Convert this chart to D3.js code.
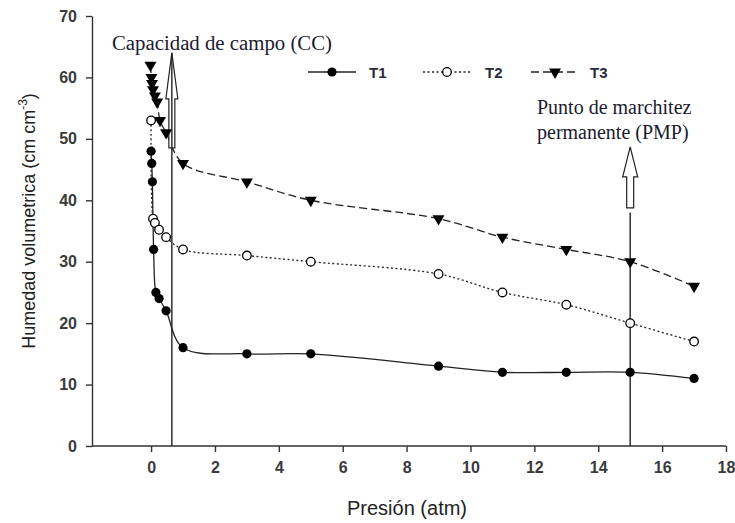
<!DOCTYPE html>
<html lang="es">

<head>
    <meta charset="UTF-8">
    <title>Humedad volumetrica</title>
    <script src="https://d3js.org/d3.v7.min.js"></script>
    <style>
        body { margin: 0; background: #fff; }
    </style>
</head>

<body>
    <svg id="chart"></svg>

    <script>
        // data
        var presT1 = [0, 0.02, 0.04, 0.08, 0.15, 0.25, 0.47, 1, 3, 5, 9, 11, 13, 15, 17];
        var humT1 = [48, 46, 43, 32, 25, 24, 22, 16, 15, 15, 13, 12, 12, 12, 11];

        var presT2 = [0, 0.06, 0.12, 0.25, 0.47, 1, 3, 5, 9, 11, 13, 15, 17];
        var humT2 = [53, 37, 36.3, 35.2, 34, 32, 31, 30, 28, 25, 23, 20, 17];

        var presT3 = [-0.02, 0.01, 0.03, 0.06, 0.12, 0.19, 0.28, 0.47, 1, 3, 5, 9, 11, 13, 15, 17];
        var humT3 = [62, 60, 59, 58, 57, 56, 53, 51, 46, 43, 40, 37, 34, 32, 30, 26];

        var seriesNames = ["T1", "T2", "T3"];
        var xTicks = [0, 2, 4, 6, 8, 10, 12, 14, 16, 18];
        var yTicks = [0, 10, 20, 30, 40, 50, 60, 70];

        // field capacity / wilting point markers
        var ccPres = 0.65, ccTop = 64;
        var pmpPres = 15, pmpTop = 48.7, pmpLineTop = 38;

        var W = 735, H = 523;
        var svg = d3.select("#chart").attr("width", W).attr("height", H);

        var x = d3.scaleLinear().domain([-1.85, 18]).range([92, 726]);
        var y = d3.scaleLinear().domain([0, 70]).range([446, 16]);

        var ink = "#222";
        var styles = {
            T1: { dash: null },
            T2: { dash: "2,2.5" },
            T3: { dash: "8,4" }
        };

        var dataReady = [
            { name: "T1", values: presT1.map(function (p, i) { return { p: p, h: humT1[i] }; }) },
            { name: "T2", values: presT2.map(function (p, i) { return { p: p, h: humT2[i] }; }) },
            { name: "T3", values: presT3.map(function (p, i) { return { p: p, h: humT3[i] }; }) }
        ];

        // axes
        var xAxis = svg.append("g")
            .attr("transform", "translate(0," + y(0) + ")")
            .call(d3.axisBottom(x).tickValues(xTicks).tickSize(6).tickPadding(10).tickSizeOuter(0));
        var yAxis = svg.append("g")
            .attr("transform", "translate(" + x.range()[0] + ",0)")
            .call(d3.axisLeft(y).tickValues(yTicks).tickSize(6).tickPadding(9).tickSizeOuter(0));

        [xAxis, yAxis].forEach(function (ax) {
            ax.select(".domain").attr("stroke", "#333").attr("stroke-width", 1.4);
            ax.selectAll(".tick line").attr("stroke", "#333").attr("stroke-width", 1.4);
            ax.selectAll(".tick text")
                .attr("fill", "#3a3a3a")
                .style("font-family", "'Liberation Sans', Arial, sans-serif")
                .style("font-size", "16px")
                .style("font-weight", "bold");
        });
        // x axis line starts at the y axis, not at the first tick
        xAxis.select(".domain").attr("d", "M" + x.range()[0] + ",0H" + x.range()[1]);

        svg.append("text")
            .attr("x", 407).attr("y", 515)
            .attr("text-anchor", "middle")
            .attr("fill", "#222")
            .style("font-family", "'Liberation Sans', Arial, sans-serif")
            .style("font-size", "20px")
            .text("Presión (atm)");

        var yTitle = svg.append("text")
            .attr("transform", "translate(35,221) rotate(-90)")
            .attr("text-anchor", "middle")
            .attr("fill", "#222")
            .style("font-family", "'Liberation Sans', Arial, sans-serif")
            .style("font-size", "18px");
        yTitle.append("tspan").text("Humedad volumetrica (cm cm");
        yTitle.append("tspan").attr("dy", -8).style("font-size", "12px").text("-3");
        yTitle.append("tspan").attr("dy", 8).text(")");

        // curves
        var line = d3.line()
            .x(function (d) { return x(d.p); })
            .y(function (d) { return y(d.h); })
            .curve(d3.curveCatmullRom.alpha(0.5));

        svg.selectAll("myLines")
            .data(dataReady)
            .enter()
            .append("path")
            .attr("d", function (d) { return line(d.values); })
            .attr("fill", "none")
            .attr("stroke", ink)
            .attr("stroke-width", 1.3)
            .attr("stroke-dasharray", function (d) { return styles[d.name].dash; });

        // hollow arrows + vertical lines
        function hollowArrow(cx, tipY, headLen, headW, shaftW, totalLen) {
            var p = d3.path();
            p.moveTo(cx, tipY);
            p.lineTo(cx + headW / 2, tipY + headLen);
            p.lineTo(cx + shaftW / 2, tipY + headLen);
            p.lineTo(cx + shaftW / 2, tipY + totalLen);
            p.lineTo(cx - shaftW / 2, tipY + totalLen);
            p.lineTo(cx - shaftW / 2, tipY + headLen);
            p.lineTo(cx - headW / 2, tipY + headLen);
            p.closePath();
            svg.append("path")
                .attr("d", p.toString())
                .attr("fill", "#fff")
                .attr("stroke", ink)
                .attr("stroke-width", 1.2);
        }

        hollowArrow(x(ccPres), y(ccTop), 46, 12, 6, 95);
        svg.append("line")
            .attr("x1", x(ccPres)).attr("x2", x(ccPres))
            .attr("y1", y(0)).attr("y2", y(ccTop))
            .attr("stroke", ink).attr("stroke-width", 1.4);

        hollowArrow(x(pmpPres), y(pmpTop), 30, 15, 7, 61);
        svg.append("line")
            .attr("x1", x(pmpPres)).attr("x2", x(pmpPres))
            .attr("y1", y(0)).attr("y2", y(pmpLineTop))
            .attr("stroke", ink).attr("stroke-width", 1.4);

        // markers
        var tri = d3.symbol().type(d3.symbolTriangle).size(62);

        function drawMarker(g, name) {
            if (name === "T1") {
                g.append("circle").attr("r", 4.6).attr("fill", "#000");
            } else if (name === "T2") {
                g.append("circle").attr("r", 4.3).attr("fill", "#fff")
                    .attr("stroke", "#000").attr("stroke-width", 1.3);
            } else {
                g.append("path").attr("d", tri).attr("transform", "rotate(180)").attr("fill", "#000");
            }
        }

        dataReady.forEach(function (s) {
            svg.append("g")
                .selectAll("g")
                .data(s.values)
                .enter()
                .append("g")
                .attr("transform", function (d) { return "translate(" + x(d.p) + "," + y(d.h) + ")"; })
                .each(function () { drawMarker(d3.select(this), s.name); });
        });

        // legend
        var legX = [308, 423, 531];
        var legend = svg.selectAll("myLegend")
            .data(seriesNames)
            .enter()
            .append("g")
            .attr("transform", function (d, i) { return "translate(" + legX[i] + ",72)"; });
        legend.append("line")
            .attr("x1", 0).attr("x2", 48)
            .attr("stroke", ink).attr("stroke-width", 1.3)
            .attr("stroke-dasharray", function (d) { return styles[d].dash; });
        legend.append("g")
            .attr("transform", "translate(24,0)")
            .each(function (d) { drawMarker(d3.select(this), d); });
        legend.append("text")
            .attr("x", function (d, i) { return [61, 62, 59][i]; })
            .attr("y", 6)
            .attr("fill", "#2a2a3a")
            .style("font-family", "'Liberation Sans', Arial, sans-serif")
            .style("font-size", "15px")
            .style("font-weight", "bold")
            .text(function (d) { return d; });

        // annotations
        var serif = "'Liberation Serif', 'Times New Roman', serif";
        svg.append("text")
            .attr("x", 112).attr("y", 50)
            .attr("fill", "#1b1b2f")
            .style("font-family", serif)
            .style("font-size", "20.8px")
            .text("Capacidad de campo (CC)");

        var pmp = svg.append("text")
            .attr("fill", "#1b1b2f")
            .style("font-family", serif)
            .style("font-size", "20px");
        pmp.append("tspan").attr("x", 537).attr("y", 114).text("Punto de marchitez");
        pmp.append("tspan").attr("x", 537).attr("y", 139).text("permanente (PMP)");
    </script>
</body>

</html>
